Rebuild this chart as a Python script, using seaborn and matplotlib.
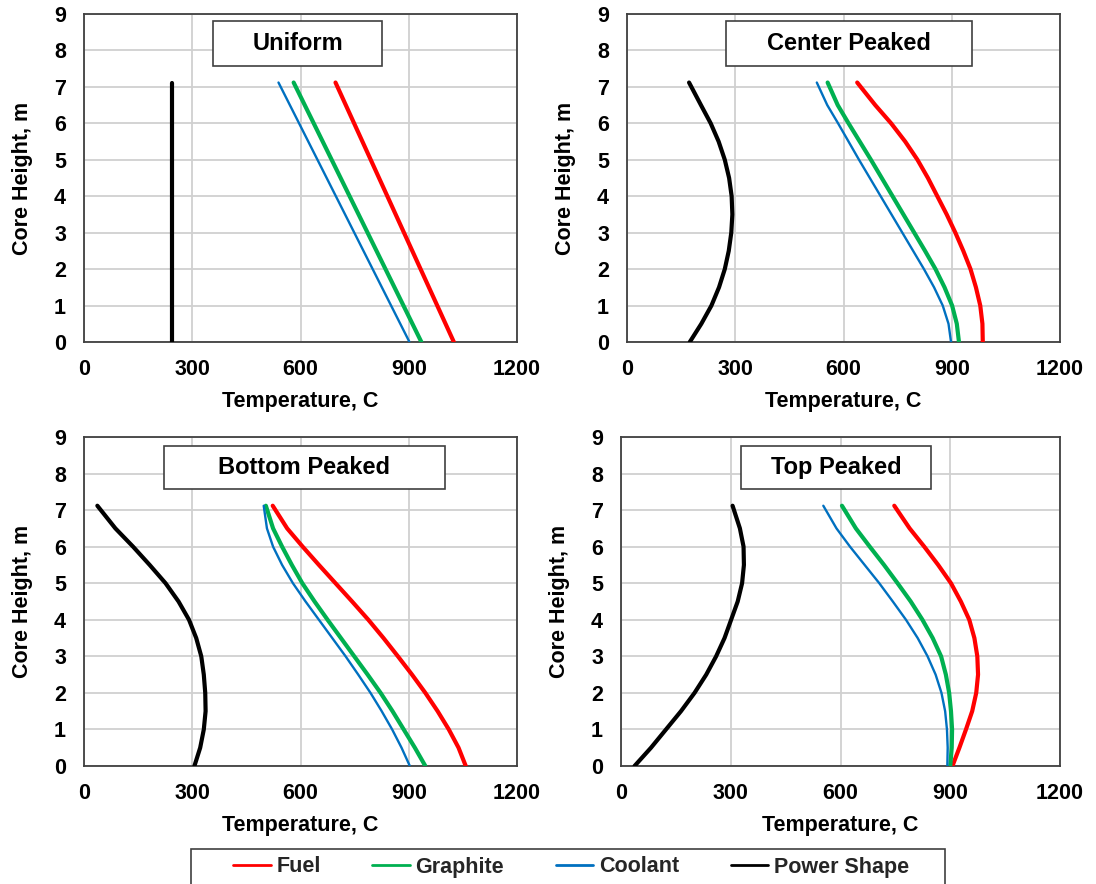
import numpy as np
import pandas as pd
import matplotlib
matplotlib.use("Agg")
import matplotlib.pyplot as plt
import matplotlib.patches as mpatches
from matplotlib.lines import Line2D
import seaborn as sns

# ---------------- data ----------------
panel_titles = ["Uniform", "Center Peaked", "Bottom Peaked", "Top Peaked"]
series_names = ["Fuel", "Graphite", "Coolant", "Power Shape"]

# Uniform panel (straight lines): heights at bottom / top of core
uni_height = [0.0, 7.12]
uni_fuel = [1025, 697]
uni_graphite = [935, 581]
uni_coolant = [902, 539]
uni_power = [243, 243]

# Curved panels: heights (m)
heights = [0.0, 0.5, 1.0, 1.5, 2.0, 2.5, 3.0, 3.5, 4.0, 4.5, 5.0, 5.5, 6.0, 6.5, 7.12]

cen_fuel = [986, 985, 979, 967, 952, 932, 910, 886, 860, 834, 805, 771, 732, 688, 638]
cen_graphite = [920, 914, 901, 880, 855, 826, 796, 766, 736, 706, 676, 645, 614, 584, 556]
cen_coolant = [898, 891, 875, 851, 823, 793, 763, 733, 703, 673, 643, 614, 585, 555, 526]
cen_power = [174, 206, 234, 255, 271, 282, 289, 292, 290, 283, 271, 254, 232, 205, 172]

bot_fuel = [1058, 1038, 1011, 980, 946, 909, 870, 830, 788, 743, 697, 651, 606, 563, 523]
bot_graphite = [946, 917, 886, 855, 822, 786, 749, 712, 675, 639, 605, 576, 549, 524, 504]
bot_coolant = [903, 880, 854, 825, 794, 760, 725, 688, 651, 614, 579, 549, 524, 507, 498]
bot_power = [306, 322, 332, 337, 336, 332, 325, 311, 291, 262, 226, 182, 136, 87, 37]

top_fuel = [906, 925, 943, 960, 971, 976, 974, 966, 952, 929, 902, 867, 829, 789, 747]
top_graphite = [900, 904, 905, 902, 897, 888, 875, 852, 824, 792, 756, 719, 680, 642, 604]
top_coolant = [892, 893, 891, 886, 876, 860, 838, 811, 779, 743, 706, 666, 626, 589, 553]
top_power = [37, 82, 123, 164, 201, 233, 260, 283, 301, 319, 331, 336, 335, 325, 305]

panels = [
    (uni_height, [uni_fuel, uni_graphite, uni_coolant, uni_power]),
    (heights, [cen_fuel, cen_graphite, cen_coolant, cen_power]),
    (heights, [bot_fuel, bot_graphite, bot_coolant, bot_power]),
    (heights, [top_fuel, top_graphite, top_coolant, top_power]),
]

x_ticks = [0, 300, 600, 900, 1200]
y_ticks = list(range(0, 10))

# ---------------- style ----------------
colors = {"Fuel": "#FF0000", "Graphite": "#00B050", "Coolant": "#0070C0", "Power Shape": "#000000"}
widths = {"Fuel": 3.0, "Graphite": 3.0, "Coolant": 1.7, "Power Shape": 3.0}

sns.set_theme(style="whitegrid")
plt.rcParams["font.family"] = ["Liberation Sans", "DejaVu Sans"]
plt.rcParams["font.weight"] = "bold"

FS = 15.5
W, H = 1096, 884
fig = plt.figure(figsize=(W / 100, H / 100), dpi=100)

# axes pixel boxes (left, top, right, bottom)
ax_px = [(84, 14, 517, 342), (627, 14, 1060, 342), (84, 437, 517, 766), (621, 437, 1060, 766)]
# title box pixel boxes (left, top, right, bottom)
title_px = [(213, 21, 382, 66), (726, 21, 972, 66), (164, 446, 445, 489), (741, 446, 931, 489)]

for i, ((hgt, vals), (l, t, r, b)) in enumerate(zip(panels, ax_px)):
    ax = fig.add_axes([l / W, 1 - b / H, (r - l) / W, (b - t) / H])
    for name, v in zip(series_names, vals):
        df = pd.DataFrame({"temp": v, "height": hgt})
        sns.lineplot(data=df, x="temp", y="height", sort=False, estimator=None,
                     color=colors[name], linewidth=widths[name], ax=ax,
                     solid_capstyle="round", solid_joinstyle="round", zorder=3)
    ax.set_xlim(0, 1200)
    ax.set_ylim(0, 9)
    ax.set_xticks(x_ticks)
    ax.set_yticks(y_ticks)
    ax.grid(True, color="#D0D0D0", linewidth=1.3)
    for s in ax.spines.values():
        s.set_color("#404040")
        s.set_linewidth(1.3)
        s.set_visible(True)
    ax.tick_params(axis="both", direction="in", length=6, width=1.2, color="#404040",
                   labelsize=FS, labelcolor="black")
    ax.tick_params(axis="x", pad=12)
    ax.tick_params(axis="y", pad=13)
    for lab in ax.get_xticklabels() + ax.get_yticklabels():
        lab.set_fontweight("bold")
    ax.set_xlabel("Temperature, C", fontsize=FS, fontweight="bold", labelpad=8, color="black")
    ax.set_ylabel("Core Height, m", fontsize=FS, fontweight="bold", labelpad=15, color="black")

    tl, tt, tr, tb = title_px[i]
    rect = mpatches.Rectangle((tl / W, 1 - tb / H), (tr - tl) / W, (tb - tt) / H,
                              transform=fig.transFigure, facecolor="white",
                              edgecolor="#404040", linewidth=1.2, zorder=5)
    fig.patches.append(rect)
    fig.text((tl + tr) / 2 / W, 1 - (tt + tb) / 2 / H, panel_titles[i], ha="center",
             va="center", fontsize=17, fontweight="bold", color="black", zorder=6)

# legend frame + legend
lg_rect = mpatches.Rectangle((191 / W, 1 - 895 / H), (945 - 191) / W, (895 - 849) / H,
                             transform=fig.transFigure, facecolor="white",
                             edgecolor="#404040", linewidth=1.2)
fig.patches.append(lg_rect)
handles = [Line2D([0], [0], color=colors[n], linewidth=2.0) for n in series_names]
leg = fig.legend(handles, series_names, loc="center", bbox_to_anchor=(571 / W, 1 - 867 / H),
                 ncol=4, frameon=False, fontsize=FS, handlelength=1.75, handletextpad=0.25,
                 columnspacing=2.4, borderpad=0.0)
for t in leg.get_texts():
    t.set_fontweight("bold")

fig.savefig("out.png", dpi=100)
